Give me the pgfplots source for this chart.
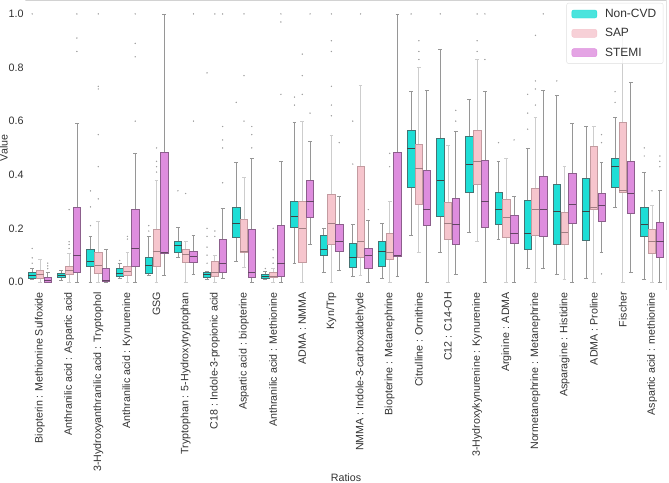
\documentclass[border=0pt]{standalone}
\usepackage{pgfplots}
\pgfplotsset{compat=1.18}
\usepgfplotslibrary{statistics}
\usepackage{fontspec}
\setmainfont{Liberation Sans}
\definecolor{ncol}{RGB}{30,222,214}
\definecolor{scol}{RGB}{246,197,205}
\definecolor{tcol}{RGB}{222,141,222}
\definecolor{nedge}{RGB}{70,115,115}
\definecolor{sedge}{RGB}{195,155,160}
\definecolor{tedge}{RGB}{140,95,140}
\definecolor{nwh}{RGB}{150,150,150}
\definecolor{swh}{RGB}{205,205,205}
\definecolor{twh}{RGB}{150,150,150}
\definecolor{nmed}{RGB}{60,70,70}
\definecolor{smed}{RGB}{160,125,130}
\definecolor{tmed}{RGB}{100,70,100}
\definecolor{txt}{RGB}{50,50,50}
\pgfplotsset{
 bN/.style={forget plot, mark=*, mark size=0.45pt, mark options={draw=gray!75, fill=gray!75},
   boxplot/every box/.style={draw=nedge, fill=ncol, line width=0.6pt},
   boxplot/every whisker/.style={draw=nwh, line width=0.8pt},
   boxplot/every median/.style={draw=nmed, line width=0.8pt}},
 bS/.style={forget plot, mark=*, mark size=0.45pt, mark options={draw=gray!75, fill=gray!75},
   boxplot/every box/.style={draw=sedge, fill=scol, line width=0.6pt},
   boxplot/every whisker/.style={draw=swh, line width=0.8pt},
   boxplot/every median/.style={draw=smed, line width=0.8pt}},
 bT/.style={forget plot, mark=*, mark size=0.45pt, mark options={draw=gray!75, fill=gray!75},
   boxplot/every box/.style={draw=tedge, fill=tcol, line width=0.6pt},
   boxplot/every whisker/.style={draw=twh, line width=0.8pt},
   boxplot/every median/.style={draw=tmed, line width=0.8pt}},
}
% five numbers per box: lower whisker, lower quartile, median, upper quartile, upper whisker
\newcommand\BX[7]{\addplot[#1, boxplot prepared={draw position=#2, lower whisker=#3, lower quartile=#4, median=#5, upper quartile=#6, upper whisker=#7}]}
\begin{document}
\begin{tikzpicture}
\begin{axis}[
 width=641.2bp, height=290bp, scale only axis,
 xmin=-0.5, xmax=21.5, ymin=-0.03, ymax=1.052,
 boxplot/draw direction=y,
 boxplot/box extend=0.255,
 boxplot/whisker extend=0.13,
 axis line style={draw=none},
 tick style={draw=none},
 xtick={0,...,21},
 xticklabels={Biopterin : Methionine Sulfoxide, Anthranilic acid : Aspartic acid, 3-Hydroxyanthranilic acid : Tryptophol, Anthranilic acid : Kynurenine, GSG, Tryptophan : 5-Hydroxytryptophan, C18 : Indole-3-propionic acid, Aspartic acid : biopterine, Anthranilic acid : Methionine, ADMA : NMMA, Kyn/Trp, NMMA : Indole-3-carboxaldehyde, Biopterine : Metanephrine, Citrulline : Ornithine, C12 : C14-OH, 3-Hydroxykynurenine : Kynurenine, Arginine : ADMA, Normetanephrine : Metanephrine, Asparagine : Histidine, ADMA : Proline, Fischer, Aspartic acid : methionine},
 xticklabel style={rotate=90, anchor=east, font=\fontsize{10.7}{12}\selectfont, text=txt, inner sep=2bp},
 ytick={0,0.2,0.4,0.6,0.8,1.0},
 yticklabel style={font=\fontsize{10.8}{12}\selectfont, text=txt, inner sep=1.5bp,
   /pgf/number format/fixed, /pgf/number format/fixed zerofill, /pgf/number format/precision=1, /pgf/number format/assume math mode=true},
 ylabel={Value}, xlabel={Ratios},
 label style={font=\fontsize{10.7}{12}\selectfont, text=txt},
 ylabel style={at={([xshift=-21.5bp,yshift=-3bp]axis description cs:0,0.5)}, anchor=center},
 xlabel style={at={([yshift=-188bp]axis description cs:0.5,0)}, anchor=center},
 legend style={at={(rel axis cs:0.995,0.99)}, anchor=north east, draw=gray!25, rounded corners=2pt, fill=white, fill opacity=0.8, text opacity=1, font=\fontsize{12}{14}\selectfont, text=txt, row sep=5.5bp, inner xsep=5bp, inner ysep=4bp, /tikz/every odd column/.append style={column sep=6bp}},
 legend cell align=left,
]
\addlegendimage{legend image code/.code={\draw[fill=ncol, draw=ncol] (0bp,-4bp) rectangle (25bp,4bp);}}
\addlegendentry{Non-CVD}
\addlegendimage{legend image code/.code={\draw[fill=scol, draw=scol] (0bp,-4bp) rectangle (25bp,4bp);}}
\addlegendentry{SAP}
\addlegendimage{legend image code/.code={\draw[fill=tcol, draw=tcol] (0bp,-4bp) rectangle (25bp,4bp);}}
\addlegendentry{STEMI}
% 0
\BX{bN}{-0.267}{0.011}{0.012}{0.024}{0.037}{0.052} table[row sep=\\,y index=0]{data\\0.07\\0.09\\0.125\\1.0\\};
\BX{bS}{0}{0.0}{0.015}{0.03}{0.045}{0.085} coordinates {};
\BX{bT}{0.267}{0.0}{0.0}{0.005}{0.019}{0.037} table[row sep=\\,y index=0]{data\\0.05\\0.06\\0.07\\};
% 1
\BX{bN}{0.733}{0.005}{0.018}{0.026}{0.033}{0.045} coordinates {};
\BX{bS}{1}{0.0}{0.03}{0.045}{0.06}{0.105} table[row sep=\\,y index=0]{data\\0.125\\0.14\\0.15\\0.27\\};
\BX{bT}{1.267}{0.0}{0.037}{0.10}{0.28}{0.59} table[row sep=\\,y index=0]{data\\0.86\\0.91\\1.0\\};
% 2
\BX{bN}{1.733}{0.0}{0.06}{0.075}{0.123}{0.17} table[row sep=\\,y index=0]{data\\0.21\\0.28\\0.34\\};
\BX{bS}{2}{0.0}{0.033}{0.06}{0.11}{0.225} table[row sep=\\,y index=0]{data\\0.31\\0.43\\0.55\\0.72\\0.73\\1.0\\};
\BX{bT}{2.267}{0.0}{0.003}{0.006}{0.052}{0.12} coordinates {};
% 3
\BX{bN}{2.733}{0.012}{0.022}{0.033}{0.052}{0.07} table[row sep=\\,y index=0]{data\\0.08\\};
\BX{bS}{3}{0.0}{0.025}{0.04}{0.06}{0.11} table[row sep=\\,y index=0]{data\\0.16\\0.17\\};
\BX{bT}{3.267}{0.0}{0.057}{0.127}{0.27}{0.48} table[row sep=\\,y index=0]{data\\0.6\\0.84\\0.89\\1.0\\};
% 4
\BX{bN}{3.733}{0.023}{0.034}{0.06}{0.093}{0.17} table[row sep=\\,y index=0]{data\\0.19\\0.21\\};
\BX{bS}{4}{0.0}{0.057}{0.113}{0.195}{0.38} table[row sep=\\,y index=0]{data\\0.41\\0.43\\0.45\\0.5\\};
\BX{bT}{4.267}{0.025}{0.107}{0.11}{0.485}{1.0} coordinates {};
% 5
\BX{bN}{4.733}{0.09}{0.11}{0.138}{0.153}{0.205} table[row sep=\\,y index=0]{data\\0.34\\};
\BX{bS}{5}{0.0}{0.075}{0.104}{0.123}{0.153} table[row sep=\\,y index=0]{data\\0.33\\};
\BX{bT}{5.267}{0.03}{0.074}{0.094}{0.116}{0.175} table[row sep=\\,y index=0]{data\\0.6\\1.0\\};
% 6
\BX{bN}{5.733}{0.01}{0.018}{0.027}{0.036}{0.04} table[row sep=\\,y index=0]{data\\0.07\\0.1\\0.13\\0.17\\0.2\\0.78\\};
\BX{bS}{6}{0.0}{0.022}{0.037}{0.078}{0.1} table[row sep=\\,y index=0]{data\\0.17\\0.19\\1.0\\};
\BX{bT}{6.267}{0.015}{0.037}{0.07}{0.16}{0.275} table[row sep=\\,y index=0]{data\\0.37\\0.5\\0.53\\0.58\\1.0\\};
% 7
\BX{bN}{6.733}{0.075}{0.165}{0.22}{0.28}{0.445} table[row sep=\\,y index=0]{data\\0.67\\};
\BX{bS}{7}{0.055}{0.11}{0.115}{0.235}{0.39} table[row sep=\\,y index=0]{data\\0.6\\0.77\\1.0\\};
\BX{bT}{7.267}{0.0}{0.018}{0.037}{0.198}{0.46} table[row sep=\\,y index=0]{data\\0.5\\0.55\\0.58\\};
% 8
\BX{bN}{7.733}{0.01}{0.015}{0.02}{0.027}{0.04} table[row sep=\\,y index=0]{data\\0.05\\};
\BX{bS}{8}{0.0}{0.018}{0.022}{0.037}{0.05} table[row sep=\\,y index=0]{data\\0.07\\0.09\\0.12\\0.2\\};
\BX{bT}{8.267}{0.0}{0.022}{0.07}{0.21}{0.45} table[row sep=\\,y index=0]{data\\0.7\\0.97\\1.0\\};
% 9
\BX{bN}{8.733}{0.07}{0.205}{0.243}{0.30}{0.595} table[row sep=\\,y index=0]{data\\0.66\\0.69\\};
\BX{bS}{9}{0.0}{0.075}{0.2}{0.30}{0.6} table[row sep=\\,y index=0]{data\\0.7\\0.77\\0.85\\};
\BX{bT}{9.267}{0.14}{0.243}{0.3}{0.38}{0.525} table[row sep=\\,y index=0]{data\\0.63\\1.0\\};
% 10
\BX{bN}{9.733}{0.037}{0.1}{0.123}{0.175}{0.2} coordinates {};
\BX{bS}{10}{0.0}{0.14}{0.22}{0.327}{0.545} table[row sep=\\,y index=0]{data\\0.62\\0.66\\0.73\\0.86\\0.9\\1.0\\};
\BX{bT}{10.267}{0.045}{0.115}{0.15}{0.215}{0.32} table[row sep=\\,y index=0]{data\\0.52\\};
% 11
\BX{bN}{10.733}{0.02}{0.054}{0.093}{0.143}{0.213} table[row sep=\\,y index=0]{data\\0.44\\0.6\\};
\BX{bS}{11}{0.025}{0.093}{0.15}{0.43}{0.735} table[row sep=\\,y index=0]{data\\1.0\\};
\BX{bT}{11.267}{0.0}{0.05}{0.1}{0.127}{0.23} table[row sep=\\,y index=0]{data\\0.27\\};
% 12
\BX{bN}{11.733}{0.013}{0.057}{0.115}{0.153}{0.22} coordinates {};
\BX{bS}{12}{0.0}{0.085}{0.11}{0.183}{0.3} table[row sep=\\,y index=0]{data\\0.43\\0.48\\};
\BX{bT}{12.267}{0.02}{0.097}{0.1}{0.485}{1.0} coordinates {};
% 13
\BX{bN}{12.733}{0.175}{0.355}{0.5}{0.567}{0.71} table[row sep=\\,y index=0]{data\\1.0\\};
\BX{bS}{13}{0.11}{0.29}{0.425}{0.515}{0.8} table[row sep=\\,y index=0]{data\\0.83\\0.86\\0.9\\};
\BX{bT}{13.267}{0.0}{0.21}{0.272}{0.415}{0.713} coordinates {};
% 14
\BX{bN}{13.733}{0.11}{0.246}{0.38}{0.537}{0.866} table[row sep=\\,y index=0]{data\\1.0\\};
\BX{bS}{14}{0.0}{0.16}{0.22}{0.298}{0.51} coordinates {};
\BX{bT}{14.267}{0.03}{0.14}{0.216}{0.313}{0.56} table[row sep=\\,y index=0]{data\\0.6\\0.64\\};
% 15
\BX{bN}{14.733}{0.185}{0.335}{0.44}{0.545}{0.68} coordinates {};
\BX{bS}{15}{0.15}{0.365}{0.45}{0.565}{0.83} table[row sep=\\,y index=0]{data\\0.86\\0.9\\1.0\\};
\BX{bT}{15.267}{0.0}{0.205}{0.3}{0.455}{0.71} table[row sep=\\,y index=0]{data\\0.83\\1.0\\};
% 16
\BX{bN}{15.733}{0.16}{0.217}{0.27}{0.335}{0.45} table[row sep=\\,y index=0]{data\\0.52\\};
\BX{bS}{16}{0.0}{0.165}{0.24}{0.31}{0.46} coordinates {};
\BX{bT}{16.267}{0.0}{0.145}{0.183}{0.25}{0.32} table[row sep=\\,y index=0]{data\\0.53\\};
% 17
\BX{bN}{16.733}{0.052}{0.12}{0.18}{0.305}{0.5} table[row sep=\\,y index=0]{data\\0.57\\0.63\\0.7\\};
\BX{bS}{17}{0.0}{0.175}{0.27}{0.35}{0.615} table[row sep=\\,y index=0]{data\\0.66\\0.72\\0.75\\0.92\\};
\BX{bT}{17.267}{0.05}{0.172}{0.27}{0.395}{0.715} table[row sep=\\,y index=0]{data\\1.0\\};
% 18
\BX{bN}{17.733}{0.03}{0.14}{0.265}{0.365}{0.695} table[row sep=\\,y index=0]{data\\0.75\\};
\BX{bS}{18}{0.01}{0.14}{0.185}{0.26}{0.43} coordinates {};
\BX{bT}{18.267}{0.0}{0.22}{0.29}{0.405}{0.59} coordinates {};
% 19
\BX{bN}{18.733}{0.015}{0.155}{0.265}{0.387}{0.58} coordinates {};
\BX{bS}{19}{0.0}{0.27}{0.28}{0.507}{0.58} coordinates {};
\BX{bT}{19.267}{0.11}{0.225}{0.285}{0.33}{0.445} table[row sep=\\,y index=0]{data\\0.03\\0.52\\0.55\\};
% 20
\BX{bN}{19.733}{0.28}{0.355}{0.43}{0.463}{0.615} table[row sep=\\,y index=0]{data\\0.67\\0.71\\};
\BX{bS}{20}{0.0}{0.335}{0.34}{0.597}{0.95} coordinates {};
\BX{bT}{20.267}{0.037}{0.257}{0.33}{0.45}{0.743} coordinates {};
% 21
\BX{bN}{20.733}{0.01}{0.172}{0.213}{0.28}{0.41} table[row sep=\\,y index=0]{data\\0.47\\0.5\\};
\BX{bS}{21}{0.0}{0.108}{0.15}{0.195}{0.285} table[row sep=\\,y index=0]{data\\0.34\\};
\BX{bT}{21.267}{0.0}{0.093}{0.15}{0.224}{0.34} table[row sep=\\,y index=0]{data\\0.43\\0.45\\0.47\\};
\draw[gray!35, line width=0.8pt] (rel axis cs:0,1) -- (rel axis cs:1,1) -- (rel axis cs:1,0);
\coordinate (O) at (rel axis cs:0,0);
\end{axis}
\pgfresetboundingbox
\path ([shift={(-25.4bp,-193bp)}]O) rectangle ++(669bp,483bp);
\end{tikzpicture}
\end{document}
